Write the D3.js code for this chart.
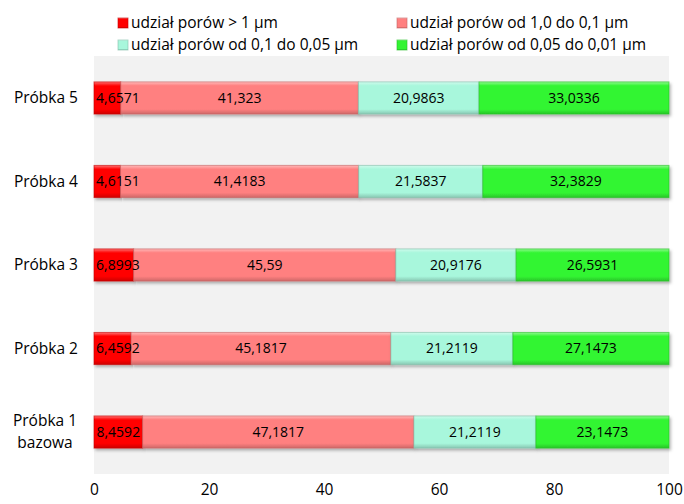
<!DOCTYPE html>
<html>
<head>
<meta charset="utf-8">
<script src="https://cdn.jsdelivr.net/npm/d3@7"></script>
<style>
  html, body { margin: 0; padding: 0; background: #ffffff; }
  svg { display: block; font-family: "Open Sans", Lato, sans-serif; }
</style>
</head>
<body>
<svg id="chart" width="684" height="504"></svg>
<script>
// Samples (top to bottom as drawn)
const categories = ["Próbka 5", "Próbka 4", "Próbka 3", "Próbka 2", "Próbka 1\nbazowa"];
const seriesNames = [
  "udział porów > 1 µm",
  "udział porów od 1,0 do 0,1 µm",
  "udział porów od 0,1 do 0,05 µm",
  "udział porów od 0,05 do 0,01 µm"
];
const poresOver1 = [4.6571, 4.6151, 6.8993, 6.4592, 8.4592];
const pores1to01 = [41.323, 41.4183, 45.59, 45.1817, 47.1817];
const pores01to005 = [20.9863, 21.5837, 20.9176, 21.2119, 21.2119];
const pores005to001 = [33.0336, 32.3829, 26.5931, 27.1473, 23.1473];
const xTicks = [0, 20, 40, 60, 80, 100];
const seriesColors = ["#ff0000", "#ff8080", "#a8f7dc", "#33f533"];

const seriesValues = [poresOver1, pores1to01, pores01to005, pores005to001];

const svg = d3.select("#chart");
const plot = { left: 94, right: 669, top: 56, bottom: 474 };
const FONT = "'Open Sans', Lato, sans-serif";

// Build rows for the 100% stacked layout
const rows = categories.map((c, i) => {
  const r = { cat: c };
  seriesNames.forEach((s, k) => { r[s] = seriesValues[k][i]; });
  return r;
});
const stack = d3.stack().keys(seriesNames).offset(d3.stackOffsetExpand);
const layers = stack(rows);

const x = d3.scaleLinear().domain([0, 100]).range([plot.left, plot.right]);
const y = d3.scaleBand().domain(categories).range([plot.top, plot.bottom]).paddingInner(0.615).paddingOuter(0.31);

// Gradients and shadow
const defs = svg.append("defs");
seriesColors.forEach((col, k) => {
  const c = d3.color(col);
  const g = defs.append("linearGradient").attr("id", "grad" + k)
    .attr("x1", 0).attr("y1", 0).attr("x2", 0).attr("y2", 1);
  g.append("stop").attr("offset", "0%").attr("stop-color", d3.interpolateRgb(col, "#ffffff")(0.45));
  g.append("stop").attr("offset", "12%").attr("stop-color", col);
  g.append("stop").attr("offset", "85%").attr("stop-color", col);
  g.append("stop").attr("offset", "100%").attr("stop-color", c.darker(0.6).formatHex());
});
const f = defs.append("filter").attr("id", "shadow").attr("x", "-5%").attr("y", "-20%").attr("width", "110%").attr("height", "160%");
f.append("feDropShadow").attr("dx", 1.5).attr("dy", 2).attr("stdDeviation", 1.5).attr("flood-color", "#000").attr("flood-opacity", 0.3);

// Plot area background
svg.append("rect")
  .attr("x", plot.left).attr("y", plot.top)
  .attr("width", plot.right - plot.left).attr("height", plot.bottom - plot.top)
  .attr("fill", "#f2f2f2");

// Bars
const barG = svg.append("g");
layers.forEach((layer, k) => {
  barG.append("g").selectAll("rect").data(layer).join("rect")
    .attr("x", d => x(d[0] * 100))
    .attr("y", d => y(d.data.cat))
    .attr("width", d => x(d[1] * 100) - x(d[0] * 100))
    .attr("height", y.bandwidth())
    .attr("fill", "url(#grad" + k + ")")
    .attr("stroke", d3.color(seriesColors[k]).darker(0.7).formatHex())
    .attr("stroke-opacity", 0.6)
    .attr("stroke-width", 1)
    .attr("filter", "url(#shadow)");
});

// Data labels
const labelG = svg.append("g").attr("font-size", 14).attr("fill", "#000");
layers.forEach((layer, k) => {
  layer.forEach((d, i) => {
    const val = seriesValues[k][i];
    const t = labelG.append("text")
      .attr("y", y(d.data.cat) + y.bandwidth() / 2)
      .attr("dy", "0.35em")
      .attr("text-anchor", "middle")
      .text(String(val).replace(".", ","));
    const w = t.node().getComputedTextLength();
    const cx = (x(d[0] * 100) + x(d[1] * 100)) / 2;
    t.attr("x", Math.max(cx, plot.left + 2 + w / 2));
  });
});

// Category labels
const catG = svg.append("g").attr("font-size", 15.5).attr("fill", "#000");
categories.forEach(c => {
  const lines = c.split("\n");
  const cy = y(c) + y.bandwidth() / 2;
  if (lines.length === 1) {
    catG.append("text").attr("x", 78).attr("y", cy).attr("dy", "0.35em")
      .attr("text-anchor", "end").text(c);
  } else {
    lines.forEach((ln, j) => {
      catG.append("text").attr("x", 45).attr("y", cy + (j - (lines.length - 1) / 2) * 22)
        .attr("dy", "0.35em").attr("text-anchor", "middle").text(ln);
    });
  }
});

// X axis (labels only)
const xAxis = d3.axisBottom(x).tickValues(xTicks).tickSize(0).tickPadding(0);
const ax = svg.append("g").attr("transform", "translate(0," + 484 + ")").call(xAxis);
ax.select(".domain").remove();
ax.selectAll("text").attr("font-size", 15.5).attr("fill", "#000").attr("font-family", FONT);

// Legend
const legendPos = [[118, 23], [397, 23], [118, 45], [397, 45]];
const leg = svg.append("g").attr("font-size", 15.5).attr("fill", "#000");
seriesNames.forEach((s, k) => {
  const [lx, ly] = legendPos[k];
  leg.append("rect").attr("x", lx).attr("y", ly - 5).attr("width", 10).attr("height", 10)
    .attr("fill", "url(#grad" + k + ")")
    .attr("stroke", d3.color(seriesColors[k]).darker(0.7).formatHex()).attr("stroke-opacity", 0.6);
  leg.append("text").attr("x", lx + 13).attr("y", ly).attr("dy", "0.35em").text(s);
});
</script>
</body>
</html>
